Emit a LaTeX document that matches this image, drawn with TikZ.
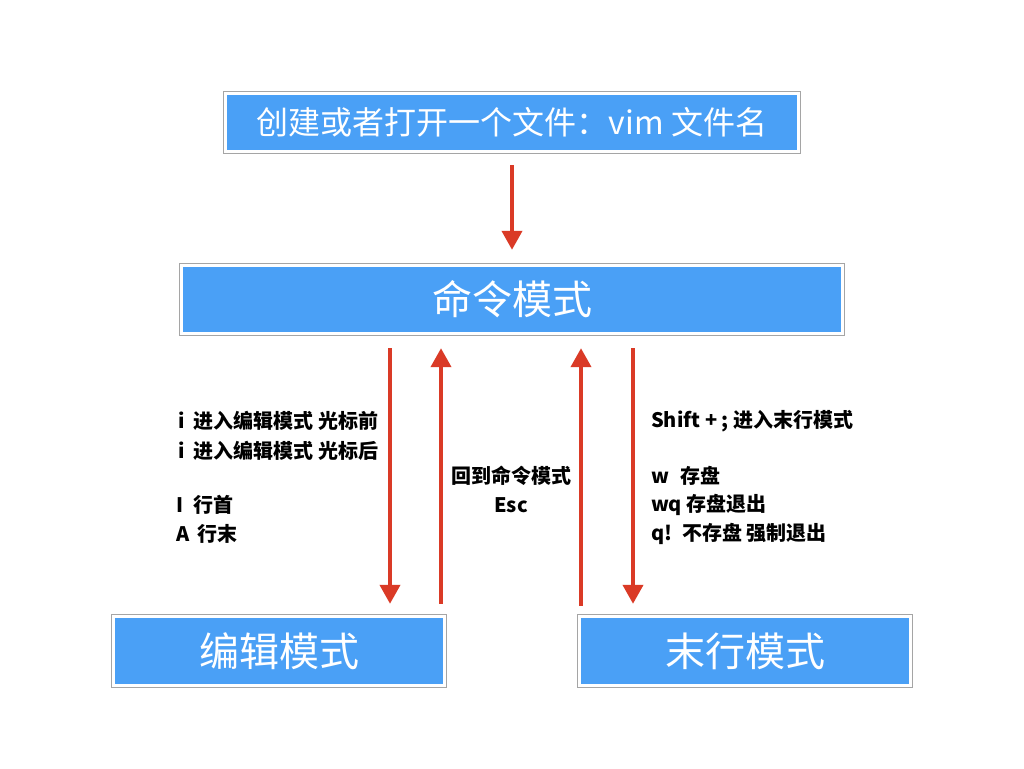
\documentclass[tikz,border=0pt]{standalone}
\usepackage{fontspec}
\setmainfont{Noto Sans CJK SC}
\usetikzlibrary{arrows.meta}
\definecolor{boxblue}{RGB}{74,160,246}
\definecolor{arrred}{RGB}{218,58,38}
\definecolor{framegray}{RGB}{165,165,165}
\tikzset{
  box/.style={rectangle, fill=boxblue, text=white, inner sep=0pt},
  frame/.style={draw=framegray, line width=1.3pt},
  arr/.style={draw=arrred, line width=4pt, -{Triangle[length=19pt,width=20pt]}},
  lbl/.style={anchor=west, inner sep=0pt, font=\bfseries\fontsize{20}{24}\selectfont},
  clbl/.style={anchor=center, inner sep=0pt, font=\bfseries\fontsize{20}{24}\selectfont},
}
\begin{document}
\begin{tikzpicture}[x=1pt,y=-1pt]
\useasboundingbox (0,0) rectangle (1024,768);
\fill[white] (0,0) rectangle (1024,768);

\node[box, minimum width=570pt, minimum height=55pt, font=\fontsize{32}{36}\selectfont] (top) at (512,122.5) {创建或者打开一个文件：vim 文件名};
\node[box, minimum width=658pt, minimum height=65pt, font=\fontsize{40}{44}\selectfont] (cmd) at (512,299.5) {命令模式};
\node[box, minimum width=328pt, minimum height=66pt, font=\fontsize{40}{44}\selectfont] (edit) at (279,651) {编辑模式};
\node[box, minimum width=328pt, minimum height=66pt, font=\fontsize{40}{44}\selectfont] (last) at (745,651) {末行模式};

\foreach \n in {top,cmd,edit,last}
  \draw[frame] ([shift={(-3.5,-3.5)}]\n.north west) rectangle ([shift={(3.5,3.5)}]\n.south east);

\draw[arr] ([shift={(0,15)}]top.south) -- ([shift={(0,-17)}]cmd.north);
\draw[arr] ([shift={(-122,16)}]cmd.south) -- ([shift={(111,-14)}]edit.north);
\draw[arr] ([shift={(162,-14)}]edit.north) -- ([shift={(-71,16)}]cmd.south);
\draw[arr] ([shift={(-164,-12)}]last.north) -- ([shift={(69,16)}]cmd.south);
\draw[arr] ([shift={(121,16)}]cmd.south) -- ([shift={(-112,-14)}]last.north);

\node[lbl] (l1) at (178,421) {i\hspace{9pt}进入编辑模式 光标前};
\node[lbl] (l2) at (178,451) {i\hspace{9pt}进入编辑模式 光标后};
\node[lbl] (l3) at (176,505) {I\hspace{10pt}行首};
\node[lbl] (l4) at (176,534) {A\hspace{8pt}行末};

\node[clbl] (m1) at (511,476) {回到命令模式};
\node[clbl] (m2) at (511,505) {Esc};

\node[lbl] (r1) at (651,421) {Shift + ; 进入末行模式};
\node[lbl] (r2) at (651,476) {w\hspace{11pt}存盘};
\node[lbl] (r3) at (651,505) {wq 存盘退出};
\node[lbl] (r4) at (651,534) {q!\hspace{10pt}不存盘 强制退出};
\end{tikzpicture}
\end{document}
